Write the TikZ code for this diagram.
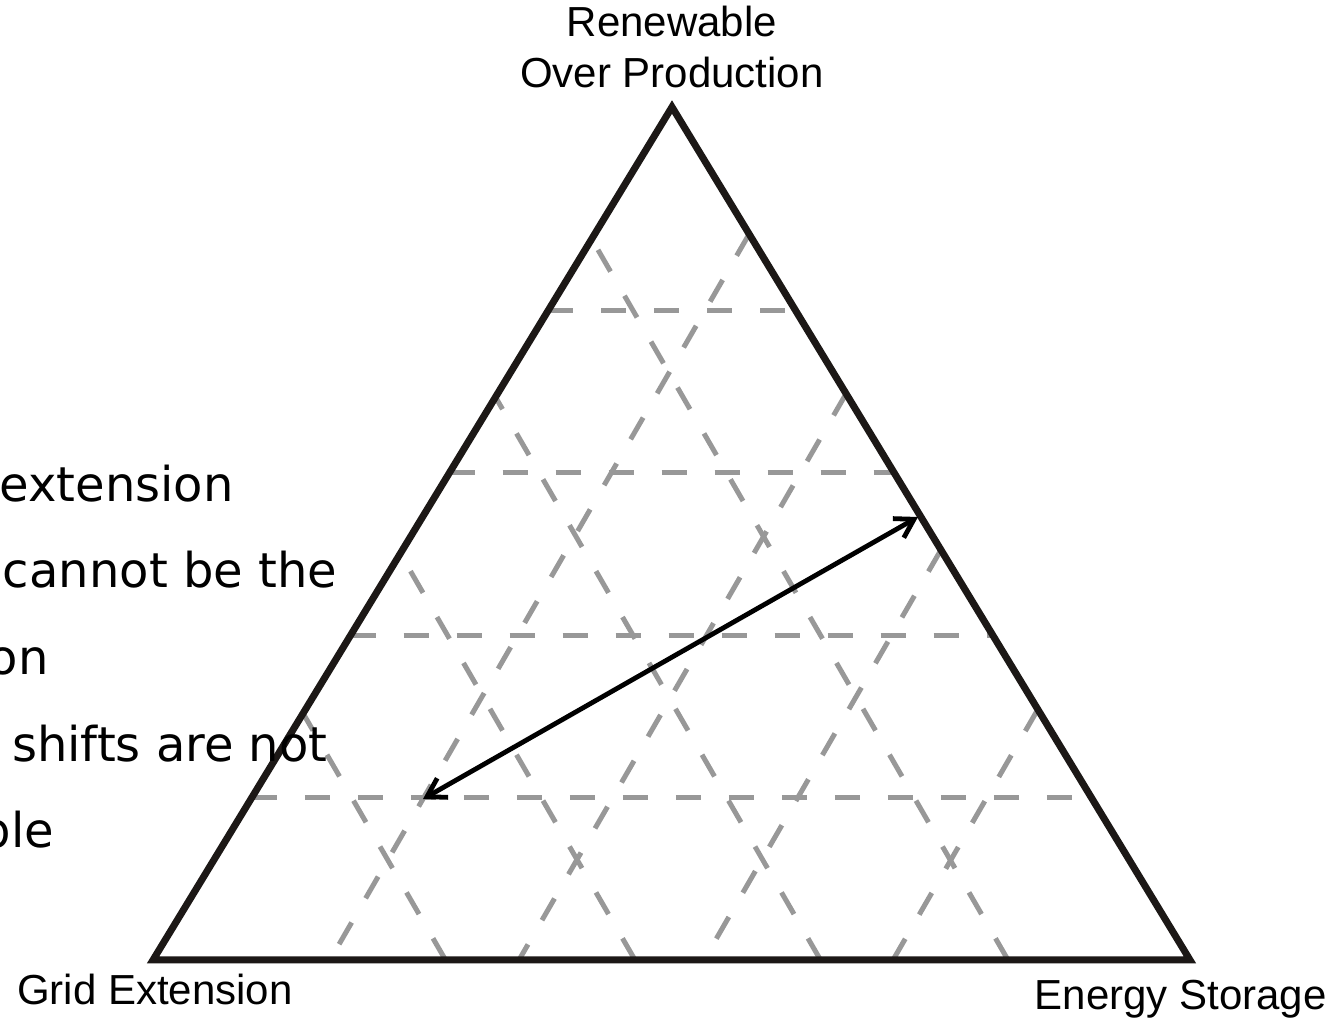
\documentclass[tikz,border=0pt]{standalone}
\usepackage{fontspec}
\setmainfont{Liberation Sans}
\newfontfamily\dejavu{DejaVu Sans}
\usetikzlibrary{arrows.meta,calc}
\definecolor{gridgray}{RGB}{152,152,152}
\definecolor{edgeblack}{RGB}{28,24,22}
\begin{document}
\begin{tikzpicture}[x=0.5pt,y=-0.5pt,
  gridline/.style={draw=gridgray, line width=2.5pt, dash pattern=on 12.5pt off 14pt},
  edgeline/.style={draw=edgeblack, line width=3.5pt, line join=miter},
  vlabel/.style={font=\fontsize{21}{25}\selectfont, inner sep=0pt},
  sidetext/.style={font=\dejavu\fontsize{24}{28}\selectfont, inner sep=0pt},
  arr/.style={line width=2.4pt, {Straight Barb[length=9pt,width=11pt]}-{Straight Barb[length=9pt,width=11pt]}}]
\useasboundingbox (0,0) rectangle (1329,1020);
\fill[white] (0,0) rectangle (1329,1020);
% triangle corners
\coordinate (A) at (672,107);
\coordinate (B) at (153,960);
\coordinate (C) at (1190,960);
% horizontal grid lines
\foreach \t in {0.2380,0.4285,0.6190,0.8095}{
  \draw[gridline] ($(A)!\t!(B)$) -- ($(A)!\t!(C)$);
}
% lines parallel to the left side: right side -> base
\foreach \t/\b in {0.14894/330,0.33611/519,0.51919/704,0.70623/893}{
  \draw[gridline] ($(A)!\t!(C)$) -- (\b,960);
}
% lines parallel to the right side: base -> left side
\foreach \s/\c in {0.71082/445.5,0.52348/635,0.34008/820.5,0.15471/1008}{
  \draw[gridline] (\c,960) -- ($(A)!\s!(B)$);
}
% triangle
\draw[edgeline] (A) -- (B) -- (C) -- cycle;
% arrow
\coordinate (p1) at (423,799);
\coordinate (p2) at (918,517);
\draw[arr] (p1) -- (p2);
% corner labels
\node[vlabel, anchor=base] (ren1) at (672,37) {Renewable};
\node[vlabel, anchor=base] (ren2) at (672,88) {Over Production};
\node[vlabel, anchor=base east] (grid) at (293,1005) {Grid Extension};
\node[vlabel, anchor=base east] (stor) at (1327,1010) {Energy Storage};
% side text (cut at the left border)
\node[sidetext, anchor=base east] (s1) at (234,502) {extension};
\node[sidetext, anchor=base east] (s2) at (337.5,588) {cannot be the};
\node[sidetext, anchor=base east] (s3) at (49,675) {on};
\node[sidetext, anchor=base east] (s4) at (328,762) {shifts are not};
\node[sidetext, anchor=base east] (s5) at (54.5,848) {ble};
\end{tikzpicture}
\end{document}
